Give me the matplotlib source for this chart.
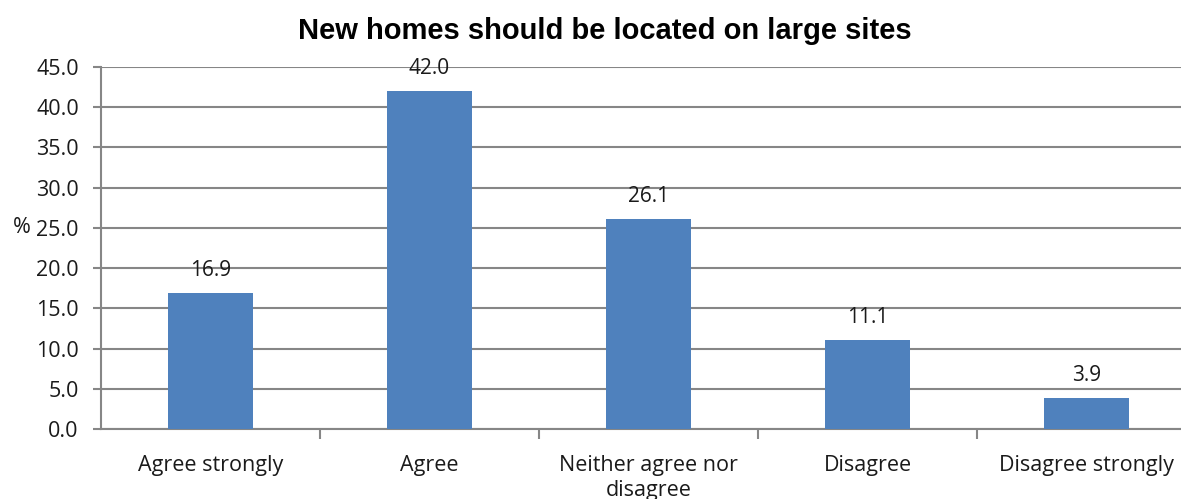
import matplotlib
matplotlib.use("Agg")
import matplotlib.pyplot as plt

categories = ["Agree strongly", "Agree", "Neither agree nor\ndisagree", "Disagree", "Disagree strongly"]
values = [16.9, 42.0, 26.1, 11.1, 3.9]
yticks = [0, 5, 10, 15, 20, 25, 30, 35, 40, 45]

bar_color = "#4F81BD"
grid_color = "#868686"
label_font = ["Open Sans", "DejaVu Sans"]
text_color = "#1a1a1a"

fig = plt.figure(figsize=(11.81, 4.99), dpi=100)
ax = fig.add_axes([101 / 1181, 70 / 499, 1095 / 1181, 362 / 499])

x = range(len(categories))
ax.bar(x, values, width=0.39, color=bar_color, zorder=3)

for i, v in enumerate(values):
    ax.text(i, v + 1.5, f"{v:.1f}", ha="center", va="bottom",
            fontsize=15, family=label_font, color=text_color, zorder=4)

ax.set_xlim(-0.5, len(categories) - 0.5)
ax.set_ylim(0, 45)
ax.set_yticks(yticks)
ax.set_yticklabels([f"{t:.1f}" for t in yticks], family=label_font, fontsize=15.5)
ax.yaxis.grid(True, color=grid_color, linewidth=1.5, zorder=0)

# category labels sit between the boundary ticks
ax.set_xticks([i + 0.5 for i in range(len(categories) - 1)])
ax.set_xticklabels([])
for i, c in enumerate(categories):
    ax.text(i, -3.2, c, ha="center", va="top", fontsize=15.5,
            family=label_font, color=text_color, linespacing=1.28)

ax.tick_params(axis="y", length=6, width=1.5, color=grid_color, pad=10, labelcolor=text_color)
ax.tick_params(axis="x", length=7, width=1.5, color=grid_color)

for side in ["top", "right"]:
    ax.spines[side].set_visible(False)
ax.spines["left"].set_color(grid_color)
ax.spines["left"].set_linewidth(1.5)
ax.spines["bottom"].set_color(grid_color)
ax.spines["bottom"].set_linewidth(1.5)

ax.text(-0.064, 0.556, "%", transform=ax.transAxes, fontsize=15.5,
        family=label_font, ha="right", va="center", color=text_color)

fig.text(0.512, 0.938, "New homes should be located on large sites", ha="center",
         va="center", fontsize=21, fontweight="bold", family="Liberation Sans")

fig.savefig("out.png", dpi=100)
